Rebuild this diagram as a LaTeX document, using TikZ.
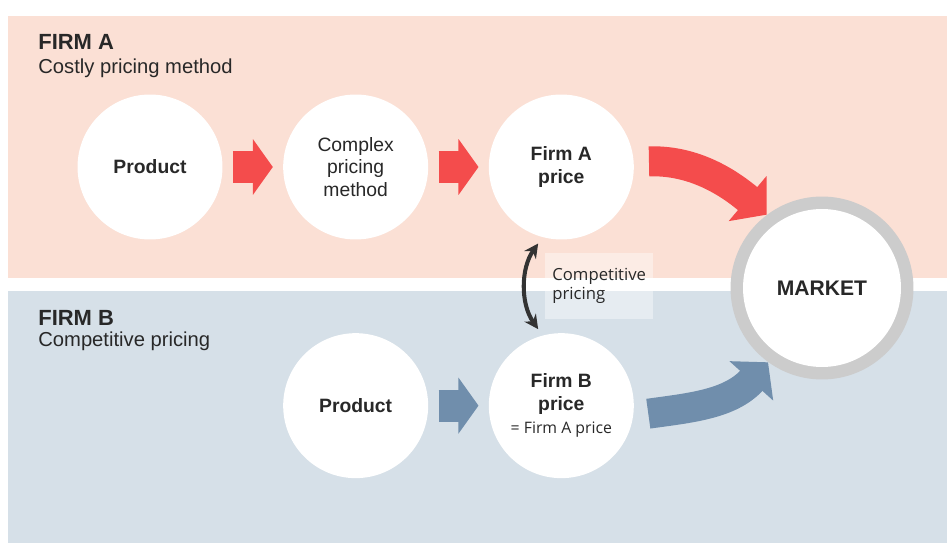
\documentclass[tikz,border=0pt]{standalone}
\usepackage{fontspec}
\setmainfont{Liberation Sans}
\newfontfamily\labelfont{Open Sans}
\usetikzlibrary{positioning, arrows.meta}

\definecolor{pinkbg}{RGB}{251,224,213}
\definecolor{bluebg}{RGB}{214,224,232}
\definecolor{arrowred}{RGB}{244,76,76}
\definecolor{arrowblue}{RGB}{112,142,172}
\definecolor{ringgray}{RGB}{204,204,204}
\definecolor{textgray}{RGB}{40,40,40}

\begin{document}
\begin{tikzpicture}[x=0.02cm, y=0.02cm, node distance=1.2cm, text=textgray,
  bubble/.style={circle, fill=white, minimum size=2.9cm, inner sep=0pt, align=center, font=\fontsize{11}{13}\selectfont},
  heading/.style={anchor=base west, inner sep=0pt, font=\bfseries\fontsize{12.5}{14}\selectfont},
  subheading/.style={anchor=base west, inner sep=0pt, font=\fontsize{11.5}{14}\selectfont},
  blockarrow/.style={line width=0.64cm, -{Triangle[width=1.1cm,length=0.4cm]}, shorten <=0.2cm, shorten >=0.2cm},
  bendarrow/.style={line width=0.6cm, -{Triangle[width=1.15cm,length=0.5cm]}}]
\useasboundingbox (0,0) rectangle (947,-547);
% two firm bands
\fill[pinkbg] (8,-16) rectangle (947,-278);
\fill[bluebg] (8,-291) rectangle (947,-543);

\node (firma) [heading] at (38,-50) {FIRM A};
\node (costly) [subheading] at (38,-74) {Costly pricing method};
\node (firmb) [heading] at (38,-326) {FIRM B};
\node (compet) [subheading] at (38,-346) {Competitive pricing};

% firm A chain
\node (proda) [bubble] at (150,-167) {\textbf{Product}};
\node (method) [bubble, right=of proda] {Complex\\pricing\\method};
\node (pricea) [bubble, right=of method] {\textbf{Firm A}\\\textbf{price}};
% firm B chain
\node (prodb) [bubble, below=1.86cm of method] {\textbf{Product}};
\node (priceb) [bubble, right=of prodb] {\textbf{Firm B}\\\textbf{price}\\{\labelfont\fontsize{9}{11}\selectfont = Firm A price}};

% market
\node (ring) [circle, fill=ringgray, minimum size=3.66cm] at (822,-288) {};
\node (market) [bubble, minimum size=3.16cm, font=\bfseries\fontsize{12}{14}\selectfont] at (ring) {MARKET};

\draw[blockarrow, arrowred] (proda) -- (method);
\draw[blockarrow, arrowred] (method) -- (pricea);
\draw[blockarrow, arrowblue] (prodb) -- (priceb);

\draw[bendarrow, arrowred, shorten <=0.3cm] (pricea.4) to[out=2, in=140] (ring.127);
\draw[bendarrow, arrowblue, shorten <=0.3cm] (priceb.-8) to[out=8, in=228] (ring.234);

\draw[line width=2.3pt, black!80, {Stealth[length=8pt,width=8pt]}-{Stealth[length=8pt,width=8pt]}, shorten <=0.15cm, shorten >=0.15cm] (pricea.255) to[bend right=35] (priceb.105);
\node (complabel) [anchor=west, fill=white, fill opacity=0.4, text opacity=1, inner xsep=4pt, inner ysep=9pt, align=left, font=\labelfont\fontsize{9.5}{10.5}\selectfont] at (545,-286) {Competitive\\pricing};
\end{tikzpicture}
\end{document}
